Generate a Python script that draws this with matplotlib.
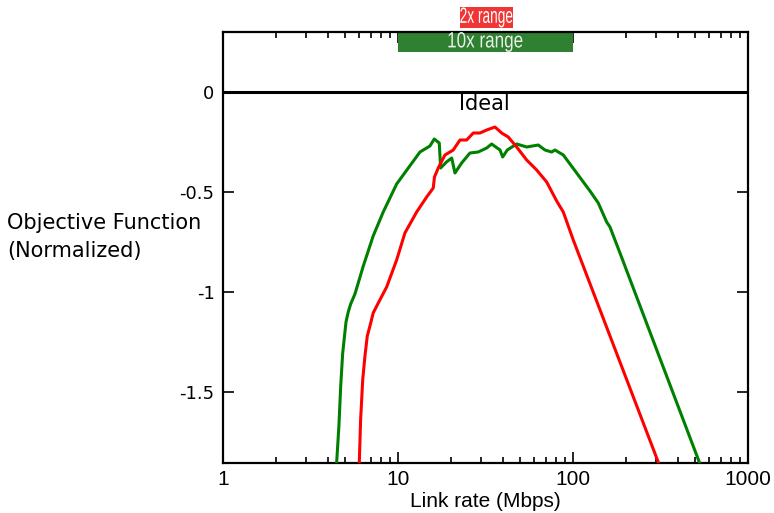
import numpy as np
import matplotlib
matplotlib.use('Agg')
import matplotlib.pyplot as plt
from matplotlib.textpath import TextPath
from matplotlib.patches import PathPatch
from matplotlib.font_manager import FontProperties
from matplotlib.transforms import Affine2D

# 10x range curve (green)
g_x = [4.46, 4.60, 4.71, 4.83, 4.91, 5.05, 5.20, 5.37, 5.68, 6.34, 7.22, 8.24, 9.83,
       11.46, 13.36, 15.23, 16.13, 17.22, 17.54, 18.93, 20.28, 21.17, 23.12, 25.79,
       28.76, 32.13, 34.31, 38.29, 39.67, 42.13, 47.69, 54.38, 63.35, 69.18, 75.55,
       78.9, 88.05, 105.0, 125.1, 139.5, 155.8, 162.7, 185.6, 531.8]
g_y = [-1.86, -1.67, -1.47, -1.31, -1.25, -1.15, -1.10, -1.06, -1.01, -0.87, -0.72,
       -0.60, -0.46, -0.38, -0.30, -0.27, -0.235, -0.255, -0.38, -0.35, -0.33, -0.405,
       -0.355, -0.305, -0.30, -0.28, -0.26, -0.29, -0.325, -0.29, -0.26, -0.275,
       -0.265, -0.29, -0.30, -0.29, -0.315, -0.405, -0.495, -0.555, -0.65, -0.675,
       -0.805, -1.86]

# 2x range curve (red)
r_x = [6.01, 6.12, 6.29, 6.48, 6.68, 6.92, 7.22, 7.72, 8.62, 9.83, 10.96, 12.79,
       14.59, 15.91, 16.17, 16.99, 18.56, 20.70, 22.61, 24.70, 26.93, 29.42, 32.13,
       35.84, 39.14, 42.68, 47.69, 54.38, 62.04, 70.75, 80.7, 88.05, 100.4, 310.0]
r_y = [-1.86, -1.64, -1.44, -1.32, -1.22, -1.17, -1.105, -1.055, -0.975, -0.84,
       -0.705, -0.60, -0.525, -0.48, -0.425, -0.38, -0.315, -0.29, -0.24, -0.24,
       -0.205, -0.205, -0.19, -0.175, -0.205, -0.225, -0.275, -0.34, -0.39, -0.45,
       -0.545, -0.60, -0.74, -1.86]

# training ranges
range_10x = (10, 100)
range_2x = (22.6, 45.3)

yticks = [0, -0.5, -1, -1.5]
ytick_labels = ['0', '-0.5', '-1', '-1.5']
xticks = [1, 10, 100, 1000]
xtick_labels = ['1', '10', '100', '1000']


def squeezed_text(ax, x, y, s, width_px, height_px, color):
    # narrow label: text outline squashed to fit the bar (no condensed font here)
    tp = TextPath((0, 0), s, size=20, prop=FontProperties(family='Liberation Sans'))
    ext = tp.get_extents()
    cx, cy = ext.x0 + ext.width / 2, ext.y0 + ext.height / 2
    px, py = ax.transData.transform((x, y))
    tr = (Affine2D().translate(-cx, -cy)
          .scale(width_px / ext.width, height_px / ext.height)
          .translate(px, py))
    ax.add_artist(PathPatch(tp, transform=tr, facecolor=color,
                            lw=0, clip_on=False, zorder=5))


fig = plt.figure(figsize=(7.74, 5.13), dpi=100)
ax = fig.add_axes([0.288, 0.0975, 0.6784, 0.8401])

ax.plot(g_x, g_y, color='#008000', lw=2.2, zorder=3)
ax.plot(r_x, r_y, color='#ff0000', lw=2.2, zorder=3)
ax.axhline(0, color='black', lw=2.2, zorder=4)
ax.text(31, -0.06, 'Ideal', ha='center', va='center', fontsize=15)

ax.set_xscale('log')
ax.set_xlim(1, 1000)
ax.set_ylim(-1.855, 0.3)

# range bars
ax.fill_between(range_10x, 0.2, 0.3, color='#2f8030', lw=0, zorder=2)
ax.fill_between(range_2x, 0.32, 0.425, color='#f03535', lw=0, zorder=2,
                clip_on=False)
squeezed_text(ax, 31.6, 0.25, '10x range', 74, 20, '#e8f0e8')
squeezed_text(ax, 32.0, 0.373, '2x range', 52, 20, 'white')

ax.set_xticks(xticks)
ax.set_xticklabels(xtick_labels, family='Liberation Sans', fontsize=15)
ax.set_yticks(yticks)
ax.set_yticklabels(ytick_labels, fontsize=13)
ax.tick_params(which='both', direction='in', top=True, right=True, width=1.2)
ax.tick_params(which='major', length=8, pad=6)
ax.tick_params(axis='x', which='major', pad=5)
ax.tick_params(which='minor', length=4)
for s in ax.spines.values():
    s.set_linewidth(1.6)

ax.set_xlabel('Link rate (Mbps)', fontsize=15, family='Liberation Sans', labelpad=2)
fig.text(0.009, 0.538, 'Objective Function\n(Normalized)', ha='left', va='center',
         fontsize=15, linespacing=1.5)

fig.savefig('out.png', dpi=100)
